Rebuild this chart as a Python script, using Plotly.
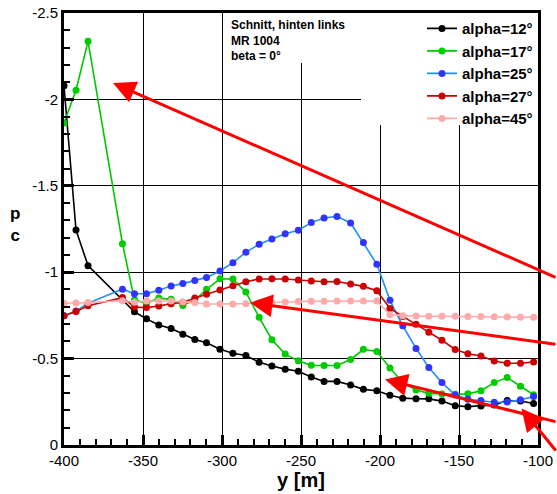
import plotly.graph_objects as go

# ---- data ----
y_pos = [-400, -392.4, -384.8, -363.0, -355.4, -347.8, -340.0, -332.2, -324.8, -317.2,
         -309.8, -301.3, -293.1, -284.9, -276.5, -268.4, -260.0, -251.7, -243.5, -235.4,
         -227.2, -218.6, -210.5, -202.0, -193.7, -185.6, -177.2, -169.1, -160.8, -152.4,
         -144.4, -136.1, -127.7, -119.5, -111.1, -102.8]

cp_alpha12 = [-2.079, -1.244, -1.038, -0.84, -0.771, -0.730, -0.694, -0.674, -0.641, -0.610,
              -0.592, -0.554, -0.531, -0.518, -0.479, -0.457, -0.439, -0.427, -0.393, -0.368,
              -0.368, -0.347, -0.322, -0.314, -0.288, -0.271, -0.268, -0.267, -0.254, -0.227,
              -0.222, -0.226, -0.232, -0.257, -0.255, -0.240]

cp_alpha17 = [-1.863, -2.053, -2.336, -1.165, -0.84, -0.82, -0.850, -0.843, -0.808, -0.839,
              -0.901, -0.962, -0.960, -0.885, -0.739, -0.609, -0.526, -0.487, -0.461, -0.460,
              -0.460, -0.495, -0.554, -0.541, -0.445, -0.362, -0.318, -0.299, -0.295, -0.294,
              -0.296, -0.314, -0.361, -0.390, -0.340, -0.291]

cp_alpha25 = [-0.748, -0.775, -0.82, -0.902, -0.875, -0.876, -0.896, -0.920, -0.934, -0.952,
              -0.970, -1.007, -1.055, -1.115, -1.162, -1.192, -1.223, -1.243, -1.287, -1.314,
              -1.323, -1.285, -1.172, -1.046, -0.837, -0.690, -0.559, -0.449, -0.361, -0.289,
              -0.265, -0.257, -0.247, -0.249, -0.262, -0.280]

cp_alpha27 = [-0.748, -0.772, -0.806, -0.853, -0.799, -0.795, -0.804, -0.818, -0.826, -0.851,
              -0.873, -0.897, -0.921, -0.945, -0.961, -0.962, -0.961, -0.955, -0.949, -0.945,
              -0.946, -0.932, -0.918, -0.893, -0.790, -0.744, -0.699, -0.653, -0.606, -0.553,
              -0.528, -0.515, -0.486, -0.473, -0.473, -0.480]

cp_alpha45 = [-0.820, -0.822, -0.824, -0.835, -0.826, -0.833, -0.833, -0.833, -0.828, -0.824,
              -0.816, -0.816, -0.816, -0.818, -0.822, -0.825, -0.828, -0.830, -0.832, -0.832,
              -0.833, -0.833, -0.833, -0.833, -0.754, -0.748, -0.746, -0.745, -0.745, -0.745,
              -0.744, -0.743, -0.742, -0.741, -0.740, -0.739]

series_names = ["alpha=12°", "alpha=17°", "alpha=25°", "alpha=27°", "alpha=45°"]
series_values = [cp_alpha12, cp_alpha17, cp_alpha25, cp_alpha27, cp_alpha45]
line_colors = ["#000000", "#00c800", "#1e8fff", "#cc0000", "#ffaaaa"]
marker_colors = ["#000000", "#00cc00", "#3333ff", "#cc0000", "#ffaaaa"]

x_ticks = [-400, -350, -300, -250, -200, -150, -100]
x_tick_labels = ["-400", "-350", "-300", "-250", "-200", "-150", "-100"]
y_ticks = [-2.5, -2, -1.5, -1, -0.5, 0]
y_tick_labels = ["-2.5", "-2", "-1.5", "-1", "-0.5", "0"]

FONT = "Liberation Sans, Arial, sans-serif"

fig = go.Figure()
for name, vals, lc, mc in zip(series_names, series_values, line_colors, marker_colors):
    fig.add_trace(go.Scatter(
        x=y_pos, y=vals, name="<b>" + name + "</b>", mode="lines+markers",
        line=dict(color=lc, width=1.6),
        marker=dict(color=mc, size=7, line=dict(width=0)),
    ))

# plot area: x 64..538, y 13..445
L, R, T, B = 64, 538, 13, 445
W, H = 557, 494

def px(xp):
    return (xp - L) / (R - L)

def py(yp):
    return (B - yp) / (B - T)

shapes = [
    # white box behind legend
    dict(type="rect", xref="paper", yref="paper", x0=px(361), x1=1, y0=py(125), y1=1,
         fillcolor="white", line=dict(width=0), layer="above"),
    # white box behind text block
    dict(type="rect", xref="paper", yref="paper", x0=px(225), x1=px(361), y0=py(63), y1=1,
         fillcolor="white", line=dict(width=0), layer="above"),
]

annotations = [
    dict(xref="paper", yref="paper", x=px(229), y=py(15.5), xanchor="left", yanchor="top",
         align="left",
         text="<b>Schnitt, hinten links<br>MR 1004<br>beta = 0°</b>", showarrow=False,
         font=dict(family=FONT, size=12, color="black")),
    # y-axis label (c_p stacked)
    dict(xref="paper", yref="paper", x=px(15), y=py(225), xanchor="center", yanchor="middle",
         text="<b>p<br>c</b>", showarrow=False, font=dict(family=FONT, size=17, color="black")),
]

# red arrows (overlay markup): tip, tail in pixels
arrows = [
    ((113, 83), (597, 278)),
    ((250, 302.7), (600, 344.4)),
    ((385, 379.5), (600, 422)),
    ((521.5, 408.5), (600, 452)),
]
for (tx, ty), (sx, sy) in arrows:
    annotations.append(dict(
        xref="paper", yref="paper", x=px(tx), y=py(ty), ax=sx - tx, ay=sy - ty,
        text="", showarrow=True, arrowhead=2, arrowsize=1.5, arrowwidth=3,
        arrowcolor="#ff0000", standoff=0, startstandoff=0,
    ))

fig.update_layout(
    width=W, height=H,
    margin=dict(l=L, r=W - R, t=T, b=H - B, pad=0, autoexpand=False),
    paper_bgcolor="white", plot_bgcolor="white",
    font=dict(family=FONT, size=15, color="black"),
    showlegend=True,
    legend=dict(
        x=1, y=1.002, xanchor="right", yanchor="top",
        bgcolor="rgba(0,0,0,0)", borderwidth=0,
        font=dict(family=FONT, size=15, color="black"),
        tracegroupgap=0,
    ),
    shapes=shapes,
    annotations=annotations,
    xaxis=dict(
        range=[-400, -100], tickvals=x_ticks, ticktext=x_tick_labels,
        showgrid=True, gridcolor="#000000", gridwidth=1,
        showline=True, linecolor="black", linewidth=3, mirror=True,
        ticks="inside", ticklen=10, tickwidth=2.5, tickcolor="black",
        minor=dict(dtick=10, ticks="inside", ticklen=6, tickwidth=1.5, tickcolor="black", showgrid=False),
        zeroline=False, automargin=False,
        tickfont=dict(family=FONT, size=15, color="black"),
        title=dict(text="<b>y [m]</b>", font=dict(family=FONT, size=20, color="black"), standoff=4),
    ),
    yaxis=dict(
        range=[0, -2.5], tickvals=y_ticks, ticktext=y_tick_labels,
        showgrid=True, gridcolor="#000000", gridwidth=1,
        showline=True, linecolor="black", linewidth=3, mirror=True,
        ticks="inside", ticklen=10, tickwidth=2.5, tickcolor="black",
        minor=dict(dtick=0.1, ticks="inside", ticklen=6, tickwidth=1.5, tickcolor="black", showgrid=False),
        zeroline=False, automargin=False,
        tickfont=dict(family=FONT, size=15, color="black"),
    ),
)

fig.write_html("out.html")
